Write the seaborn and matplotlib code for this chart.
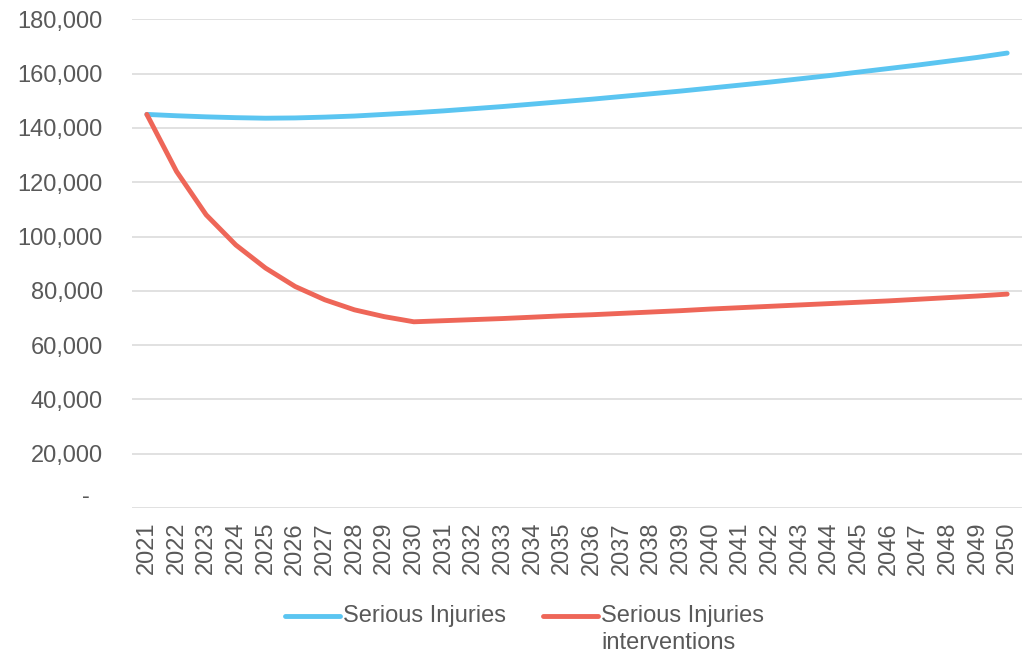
import numpy as np
import pandas as pd
import matplotlib.pyplot as plt
import seaborn as sns
from matplotlib.legend_handler import HandlerLine2D
from matplotlib.ticker import FuncFormatter

# Data
years = list(range(2021, 2051))
serious = [145000, 144500, 144100, 143800, 143600, 143700, 144000, 144400, 145000, 145600,
           146300, 147100, 147900, 148800, 149700, 150600, 151600, 152600, 153600, 154700,
           155800, 156900, 158100, 159300, 160600, 161900, 163200, 164600, 166000, 167600]
interventions = [145000, 124000, 108000, 96900, 88400, 81600, 76700, 73000, 70500, 68600,
                 69000, 69400, 69800, 70300, 70800, 71200, 71700, 72200, 72700, 73300,
                 73800, 74300, 74800, 75300, 75800, 76300, 76900, 77500, 78100, 78800]
series_names = ["Serious Injuries", "Serious Injuries interventions"]
legend_labels = ["Serious Injuries\n", "Serious Injuries\ninterventions"]
colors = ["#5BC5F1", "#EE6658"]
y_ticks = list(range(0, 180001, 20000))

sns.set_style("white")
plt.rcParams['font.family'] = ['Liberation Sans', 'DejaVu Sans']
text_color = "#595959"


class FirstLineHandler(HandlerLine2D):
    # keep the legend line level with the first line of a two-line label
    def create_artists(self, legend, orig_handle, xdescent, ydescent,
                       width, height, fontsize, trans):
        artists = super().create_artists(legend, orig_handle, xdescent, ydescent,
                                         width, height, fontsize, trans)
        for a in artists:
            a.set_ydata(np.asarray(a.get_ydata()) + 0.6 * fontsize)
        return artists


df = pd.DataFrame({
    "Year": years * 2,
    "Injuries": serious + interventions,
    "Series": [series_names[0]] * len(years) + [series_names[1]] * len(years),
})

fig = plt.figure(figsize=(10.32, 6.55), dpi=100)
ax = fig.add_axes([132 / 1032, 1 - 508 / 655, 890 / 1032, 488.6 / 655])

sns.lineplot(data=df, x="Year", y="Injuries", hue="Series", palette=colors,
             linewidth=3.5, ax=ax, legend=False)
for ln in ax.get_lines():
    ln.set_solid_capstyle("round")

# Axes styling (Excel look)
ax.set_xlim(years[0] - 0.5, years[-1] + 0.5)
ax.set_ylim(0, 180000)
ax.set_xticks(years)
ax.set_xticklabels([str(y) for y in years], rotation=90)
ax.set_yticks(y_ticks)
ax.yaxis.set_major_formatter(FuncFormatter(lambda v, p: f"{v:,.0f}" if v else "-  "))
ax.grid(axis="y", color="#D9D9D9", linewidth=1.1)
ax.grid(axis="x", visible=False)
ax.set_axisbelow(True)
for s in ax.spines.values():
    s.set_visible(False)
ax.tick_params(axis="y", length=0, pad=21, labelsize=17, labelcolor=text_color)
ax.tick_params(axis="x", length=0, pad=10, labelsize=17, labelcolor=text_color)
ax.set_xlabel("")
ax.set_ylabel("")
# the zero dash sits a little above its gridline in the original
ax.yaxis.get_major_ticks()[0].label1.set_verticalalignment("bottom")

# Legend below the chart
handles = ax.get_lines()[:2]
leg = fig.legend(handles, legend_labels, loc="upper left",
                 bbox_to_anchor=(285 / 1032, 1 - 605 / 655), ncol=2, frameon=False,
                 fontsize=17, labelcolor=text_color, handlelength=2.33,
                 handletextpad=0.13, columnspacing=1.57, borderpad=0, borderaxespad=0,
                 handler_map={h: FirstLineHandler() for h in handles})
for t in leg.get_texts():
    t.set_linespacing(1.3)

plt.savefig("out.png", dpi=100)
plt.close()
